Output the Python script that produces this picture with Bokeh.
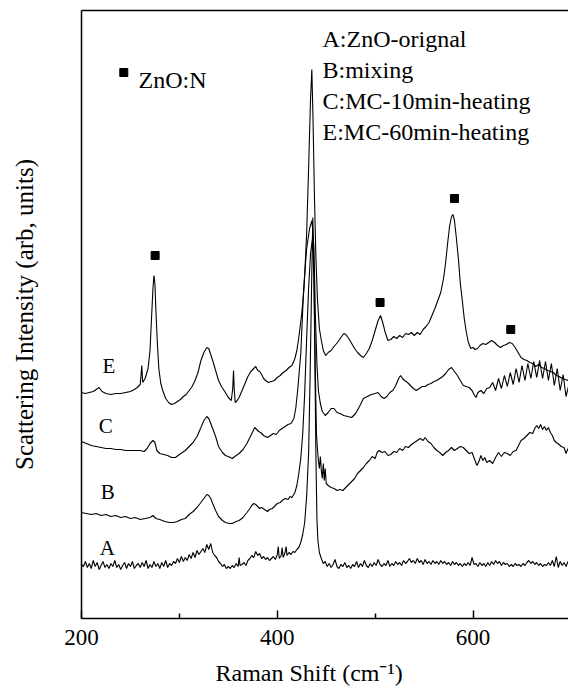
from bokeh.plotting import figure
from bokeh.models import LinearAxis, FixedTicker, Label, Title
from bokeh.embed import file_html
from bokeh.resources import INLINE

# ---- data (Raman shift cm-1, intensity arb. units, stacked offsets as drawn) ----
curve_A = [(200,54),(202,52),(204,57),(206,51),(208,55),(210,50),(212,58),(214,52),(216,56),(218,49),
 (220,53),(222,57),(224,51),(226,54),(228,50),(230,55),(232,52),(234,58),(236,51),(238,54),(240,49),
 (242,53),(244,56),(246,50),(248,55),(250,52),(252,57),(254,50),(256,53),(258,55),(260,51),(262,56),
 (264,52),(266,58),(268,50),(270,54),(272,51),(274,57),(276,52),(278,55),(280,50),(282,56),(284,52),
 (286,58),(288,51),(290,55),(292,53),(294,57),(296,55),(298,60),(300,56),(302,62),(304,57),(306,61),
 (308,58),(310,64),(312,60),(314,66),(316,61),(318,68),(320,64),(322,67),(324,70),(326,66),(328,74),
 (330,69),(332,75),(334,66),(336,63),(338,61),(340,57),(342,55),(344,52),(346,54),(348,50),(350,52),
 (352,50),(354,53),(356,51),(358,55),(360,52),(361,61),(362,53),(364,54),(366,56),(368,53),(370,58),
 (372,60),(374,63),(376,61),(378,67),(380,63),(382,65),(384,60),(386,62),(388,59),(390,61),(392,58),
 (394,60),(396,62),(398,59),(400,64),(401,72),(402,60),(404,63),(405,71),(406,61),(408,66),(409,72),
 (410,63),(412,66),(414,64),(416,67),(418,66),(420,69),(422,71),(424,76),(426,84),(428,96),(430,122),
 (432,165),(433.5,240),(435,330),(436.3,401),(437.5,340),(438.5,250),(439.5,160),(440.5,100),
 (441.5,78),(443,66),(445,60),(447,55),(449,57),(451,52),(453,55),(455,51),(457,54),(459,59),(461,52),
 (463,50),(465,54),(467,52),(469,56),(471,51),(473,53),(475,50),(477,54),(479,52),(481,57),(483,51),
 (485,55),(487,52),(489,58),(491,53),(493,51),(495,55),(497,52),(499,56),(501,53),(503,59),(505,54),
 (507,52),(509,55),(511,53),(513,58),(515,52),(517,55),(519,53),(521,57),(523,54),(525,56),(527,53),
 (529,58),(531,55),(533,57),(535,60),(537,56),(539,58),(541,55),(543,60),(545,56),(547,58),(549,54),
 (551,59),(553,55),(555,57),(557,54),(559,58),(561,55),(563,57),(565,54),(567,58),(569,55),(571,57),
 (573,54),(575,56),(577,53),(579,57),(581,54),(583,56),(585,53),(587,55),(589,52),(591,55),(593,53),
 (595,56),(597,53),(599,61),(601,54),(603,55),(605,52),(607,56),(609,53),(611,55),(613,52),(615,56),
 (617,53),(619,57),(621,54),(623,58),(625,55),(627,57),(629,53),(631,56),(633,54),(635,55),(637,52),
 (639,54),(641,52),(643,55),(645,53),(647,54),(649,52),(651,55),(653,53),(655,56),(657,58),(659,55),
 (661,57),(663,54),(665,56),(667,53),(669,55),(671,52),(673,54),(675,53),(677,56),(679,53),(681,58),
 (683,52),(685,62),(687,51),(689,57),(691,53),(693,56),(695,52),(697,57)]

curve_B = [(200,106),(205,105),(210,104),(215,105),(220,103),(225,104),(230,102),(235,103),(240,101),
 (245,102),(250,100),(255,101),(260,99),(265,100),(270,101),(273,103),(276,100),(280,99),(285,97),
 (290,96),(294,96),(298,97),(302,99),(306,100),(310,104),(314,107),(318,111),(322,116),(325,120),
 (328,124),(330,123),(332,120),(334,115),(337,108),(340,102),(344,98),(347,96),(351,95),(354,95),
 (358,97),(361,98),(365,101),(369,106),(372,110),(374,113),(376,115),(378,114),(380,112),(382,110),
 (384,111),(387,109),(390,107),(392,109),(395,110),(398,113),(400,115),(403,116),(405,118),(408,120),
 (411,119),(413,122),(415,121),(418,126),(420,133),(422,145),(424,160),(426,185),(428,225),(430,280),
 (432,330),(434,365),(436,380),(437.5,340),(439,240),(440,185),(441,170),(442,158),(443,150),
 (444,162),(445,148),(446,140),(447,155),(448,138),(449,150),(450,135),(452,133),(455,131),(458,130),
 (461,128),(464,129),(467,128),(470,131),(473,134),(476,137),(479,140),(482,145),(485,148),(488,151),
 (491,155),(494,158),(497,162),(500,160),(502,166),(504,168),(507,166),(510,167),(513,163),(516,164),
 (519,167),(522,166),(525,170),(528,168),(531,172),(534,171),(537,174),(540,176),(543,178),(546,180),
 (549,178),(551,181),(554,177),(557,175),(560,171),(563,168),(566,166),(569,163),(572,166),(575,168),
 (578,171),(581,168),(584,170),(587,172),(590,171),(593,168),(596,165),(599,166),(602,158),(604,153),
 (606,157),(608,163),(610,158),(612,161),(614,156),(617,158),(620,155),(623,161),(626,166),(629,162),
 (632,166),(635,165),(638,163),(641,167),(644,168),(646,172),(649,178),(652,180),(655,183),(658,186),
 (661,185),(663,190),(665,193),(667,190),(669,194),(671,189),(673,192),(675,188),(677,191),(679,186),
 (681,183),(683,178),(685,176),(688,174),(690,172),(693,171),(695,165),(697,170)]

curve_C = [(200,177),(205,175),(210,173),(215,172),(220,171),(225,170),(230,170),(235,169),(240,169),
 (245,168),(250,168),(255,168),(260,168),(264,167),(267,170),(270,175),(273,178),(275,176),(277,168),
 (280,165),(284,164),(288,163),(292,161),(296,161),(300,164),(303,166),(306,168),(310,172),(314,176),
 (318,182),(322,191),(325,198),(328,202),(330,200),(332,195),(334,190),(337,182),(340,172),(344,166),
 (347,163),(350,162),(354,160),(358,163),(361,165),(365,169),(369,175),(372,181),(375,187),(377,191),
 (379,189),(381,187),(383,186),(386,183),(388,182),(390,181),(393,183),(396,185),(399,184),(402,188),
 (405,190),(408,192),(411,194),(414,195),(417,200),(419,211),(421,230),(424,265),(427,331),(430,370),
 (433,390),(435.5,398),(437.5,370),(439,300),(440.5,255),(442,228),(444,215),(446,207),(449,203),
 (452,206),(455,210),(458,210),(461,206),(464,205),(468,203),(472,202),(476,201),(480,205),(484,212),
 (488,220),(492,222),(496,224),(500,225),(503,226),(506,222),(509,220),(512,222),(515,226),(518,228),
 (521,233),(524,240),(526,243),(528,240),(530,238),(533,236),(536,233),(539,230),(542,228),(545,230),
 (548,232),(551,232),(554,234),(557,235),(560,237),(563,238),(566,240),(569,242),(572,245),(575,249),
 (578,251),(581,247),(584,243),(587,238),(590,233),(593,232),(596,231),(599,228),(601,224),(603,221),
 (605,226),(608,228),(611,225),(614,230),(617,231),(620,236),(623,228),(626,240),(629,230),(632,243),
 (635,232),(638,246),(641,234),(644,250),(647,236),(650,253),(653,238),(656,255),(659,240),(662,257),
 (665,241),(668,258),(671,240),(674,257),(677,238),(680,255),(683,233),(686,250),(689,228),(692,244),
 (695,222),(697.5,232)]

curve_E = [(200,226),(204,225),(208,226),(212,227),(215,229),(218,231),(221,227),(225,225),(230,224),
 (235,225),(240,225),(245,226),(250,227),(254,229),(257,231),(260,234),(261.6,253),(262.5,236),
 (265,240),(268,250),(270,268),(271.5,300),(273,330),(274,343),(275,335),(276,308),(277.5,275),
 (279,250),(281,235),(283,228),(286,220),(289,216),(292,214),(295,215),(298,217),(301,219),(304,222),
 (307,224),(310,228),(313,232),(316,238),(319,246),(322,258),(325,266),(328,271),(330,270),(332,264),
 (334,258),(337,248),(340,238),(343,232),(347,226),(350,221),(353,218),(354.5,230),(355.3,248),
 (356,230),(357,216),(359,218),(361,221),(364,228),(367,235),(370,242),(373,247),(376,250),(378,252),
 (380,248),(382,247),(384,244),(386,240),(388,238),(391,236),(394,237),(397,238),(400,241),(403,243),
 (406,246),(409,248),(412,251),(415,253),(418,260),(420,268),(422,281),(425,305),(427.4,331),(430,385),
 (432,450),(434,520),(435.3,549),(436.5,500),(438,420),(439.5,360),(441,320),(443,290),(445,278),
 (447,268),(449.5,263),(452,266),(455,268),(458,272),(461.5,276),(465,281),(468,285),(470,284),
 (473,280),(476,275),(479,270),(482,266),(485,263),(488,261),(491,265),(494,270),(497,278),(500,288),
 (503,298),(505.5,303),(508,295),(510,287),(513,278),(516,279),(519,282),(522,280),(525,283),(528,281),
 (531,285),(534,284),(537,286),(540,283),(543,286),(546,284),(549,289),(552,292),(555,296),(558,303),
 (561,310),(564,318),(567,326),(570,341),(572,356),(574,375),(576,392),(578,402),(579.5,404),(581,398),
 (583,380),(585,360),(587,335),(589,318),(591,300),(593,287),(595,277),(597.6,270),(600,271),(602,269),
 (604.5,270),(607,273),(610,275),(613,274),(616,276),(619,278),(622,276),(625,273),(628,271),(631,273),
 (634,274),(637,276),(640,275),(643,271),(646,266),(649,261),(652,259),(655,258),(658,256),(661,255),
 (664,252),(667,254),(670,251),(673,250),(676,248),(679,247),(682,246),(685,243),(688,242),(691,240),
 (694,239),(697.5,238)]

marker_shift = [275.2, 505, 581, 638.5]
marker_height = [363, 316, 420, 289]

curve_letters = ["E", "C", "B", "A"]
legend_lines = ["A:ZnO-orignal", "B:mixing", "C:MC-10min-heating", "E:MC-60min-heating"]
x_ticks = [200, 400, 600]
x_minor_ticks = [300, 500]

SERIF = "Liberation Serif"

p = figure(width=568, height=688, x_range=(200, 697.5), y_range=(0, 608),
           output_backend="svg", toolbar_location=None,
           min_border_left=81, min_border_right=0, min_border_top=10, min_border_bottom=70)
p.outline_line_color = None
p.xgrid.visible = False
p.ygrid.visible = False
p.background_fill_color = "white"
p.border_fill_color = "white"

for curve in (curve_A, curve_B, curve_C, curve_E):
    xs = [c[0] for c in curve]
    ys = [c[1] for c in curve]
    p.line(xs, ys, line_color="black", line_width=1.1)

p.scatter(marker_shift, marker_height, marker="square", size=8, color="black")

# axes
xa = p.xaxis[0]
xa.ticker = FixedTicker(ticks=x_ticks, minor_ticks=x_minor_ticks)
xa.major_tick_in = 8
xa.major_tick_out = 0
xa.minor_tick_in = 5
xa.minor_tick_out = 0
xa.axis_line_width = 1.5
xa.major_tick_line_width = 1.5
xa.minor_tick_line_width = 1.5
xa.major_label_text_font = SERIF
xa.major_label_text_font_size = "23px"
xa.major_label_text_color = "black"
xa.major_label_standoff = 11

ya = p.yaxis[0]
ya.ticker = FixedTicker(ticks=[])
ya.major_tick_in = 0
ya.major_tick_out = 0
ya.minor_tick_in = 0
ya.minor_tick_out = 0
ya.axis_line_width = 1.5
ya.major_label_text_font_size = "0px"
ya.axis_label = "Scattering Intensity (arb, units)"
ya.axis_label_text_font = SERIF
ya.axis_label_text_font_size = "25px"
ya.axis_label_text_font_style = "normal"
ya.axis_label_text_color = "black"
ya.axis_label_standoff = 44

top = LinearAxis(ticker=FixedTicker(ticks=[]), major_label_text_font_size="0px",
                 major_tick_in=0, major_tick_out=0, minor_tick_in=0, minor_tick_out=0,
                 axis_line_width=1.5)
p.add_layout(top, "above")

# x axis title, placed where the original figure has it (left of frame centre)
xtitle = Title(text="Raman Shift (cm\u207b\u00b9)", align="left", offset=134, standoff=0,
               padding=(0, 0, 10, 0),
               text_font=SERIF, text_font_size="24px", text_font_style="normal",
               text_color="black")
p.add_layout(xtitle, "below")

# curve letters
letter_pos = [(221.5, 253), (217.7, 193), (219.7, 127), (218.7, 71)]
for t, (lx, ly) in zip(curve_letters, letter_pos):
    p.add_layout(Label(x=lx, y=ly, text=t, text_font=SERIF, text_font_size="21px",
                       text_color="black", text_baseline="alphabetic"))

# sample legend text
legend_y = [579.5, 548.5, 517.5, 486.5]
for t, ly in zip(legend_lines, legend_y):
    p.add_layout(Label(x=446.2, y=ly, text=t, text_font=SERIF, text_font_size="24px",
                       text_color="black", text_baseline="alphabetic"))

# ZnO:N key
p.scatter([243.2], [546], marker="square", size=8, color="black")
p.add_layout(Label(x=258.2, y=539, text="ZnO:N", text_font=SERIF, text_font_size="24px",
                   text_color="black", text_baseline="alphabetic"))

open("out.html", "w").write(file_html(p, INLINE))
